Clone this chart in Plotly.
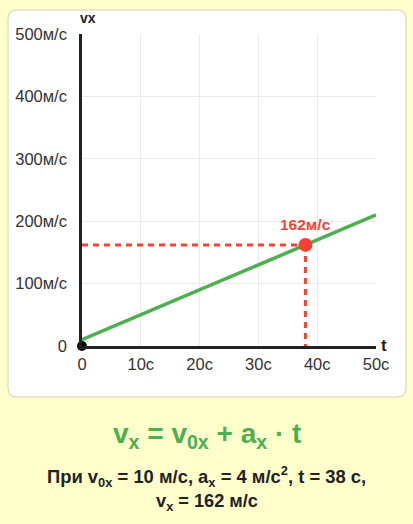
import plotly.graph_objects as go

# Data
t_line = [0, 50]
v_line = [10, 210]
t_point = 38
v_point = 162
x_ticks = [0, 10, 20, 30, 40, 50]
x_tick_labels = ["0", "10с", "20с", "30с", "40с", "50с"]
y_ticks = [0, 100, 200, 300, 400, 500]
y_tick_labels = ["0", "100м/с", "200м/с", "300м/с", "400м/с", "500м/с"]

W, H = 413, 524
BG = "#FFFFCC"
GREEN = "#4CAF50"
RED = "#F44336"

fig = go.Figure()

fig.add_trace(go.Scatter(x=[0, t_point], y=[v_point, v_point], mode="lines",
                         line=dict(color=RED, width=3, dash="6px,5px"), hoverinfo="skip"))
fig.add_trace(go.Scatter(x=[t_point, t_point], y=[v_point, 0], mode="lines",
                         line=dict(color=RED, width=3, dash="6px,5px"), hoverinfo="skip"))
fig.add_trace(go.Scatter(x=t_line, y=v_line, mode="lines",
                         line=dict(color=GREEN, width=3.5), hoverinfo="skip"))
fig.add_trace(go.Scatter(x=[t_point], y=[v_point], mode="markers",
                         marker=dict(color=RED, size=14), hoverinfo="skip"))
fig.add_trace(go.Scatter(x=[0], y=[0], mode="markers",
                         marker=dict(color="black", size=10), hoverinfo="skip",
                         cliponaxis=False))

def px_x(p):
    return p / W

def px_y(p):
    return 1 - p / H

x0, x1, y0, y1, r = 8, 406, 10, 397, 9
path = (f"M {px_x(x0+r)},{px_y(y0)} L {px_x(x1-r)},{px_y(y0)} "
        f"Q {px_x(x1)},{px_y(y0)} {px_x(x1)},{px_y(y0+r)} "
        f"L {px_x(x1)},{px_y(y1-r)} Q {px_x(x1)},{px_y(y1)} {px_x(x1-r)},{px_y(y1)} "
        f"L {px_x(x0+r)},{px_y(y1)} Q {px_x(x0)},{px_y(y1)} {px_x(x0)},{px_y(y1-r)} "
        f"L {px_x(x0)},{px_y(y0+r)} Q {px_x(x0)},{px_y(y0)} {px_x(x0+r)},{px_y(y0)} Z")
fig.add_shape(type="path", path=path, xref="paper", yref="paper",
              fillcolor="white", line=dict(color="#CFCFB8", width=1), layer="below")

font_family = "Liberation Sans, Arial, sans-serif"

fig.update_layout(
    width=W, height=H, autosize=False,
    margin=dict(l=0, r=0, t=0, b=0, pad=0),
    paper_bgcolor=BG, plot_bgcolor="rgba(0,0,0,0)",
    showlegend=False,
    font=dict(family=font_family, color="#333", size=16.5),
    xaxis=dict(domain=[82 / W, 376 / W], range=[0, 50], tickvals=x_ticks,
               ticktext=x_tick_labels, showgrid=True, gridcolor="#EBEBEB", gridwidth=1,
               showline=True, linecolor="#222", linewidth=2.5, zeroline=False,
               ticks="", ticklabelstandoff=1, fixedrange=True, automargin=False),
    yaxis=dict(domain=[px_y(346), px_y(34)], range=[0, 500], tickvals=y_ticks,
               ticktext=y_tick_labels, showgrid=True, gridcolor="#EBEBEB", gridwidth=1,
               showline=True, linecolor="#222", linewidth=2.5, zeroline=False,
               ticks="", ticklabelstandoff=9, fixedrange=True, automargin=False),
)

annotations = [
    dict(x=t_point, y=v_point, xref="x", yref="y", text=f"<b>{v_point}м/с</b>",
         showarrow=False, yshift=20, font=dict(color=RED, size=15.5)),
    dict(x=0, y=500, xref="x", yref="y", text="<b>vx</b>", showarrow=False,
         xshift=6, yshift=16, font=dict(color="#222", size=14)),
    dict(x=50, y=0, xref="x", yref="y", text="<b>t</b>", showarrow=False,
         xshift=8, yshift=1, font=dict(color="#222", size=17)),
    dict(x=0.5, y=px_y(435), xref="paper", yref="paper", yanchor="middle",
         text="<b>v<sub>x</sub> = v<sub>0x</sub> + a<sub>x</sub> · t</b>",
         showarrow=False, font=dict(color=GREEN, size=28)),
    dict(x=0.5, y=px_y(476), xref="paper", yref="paper", yanchor="middle",
         text="<b>При v<sub>0x</sub> = 10 м/с, a<sub>x</sub> = 4 м/с<sup>2</sup>, t = 38 с,</b>",
         showarrow=False, font=dict(color="#222", size=18.4)),
    dict(x=0.5, y=px_y(502), xref="paper", yref="paper", yanchor="middle",
         text="<b>v<sub>x</sub> = 162 м/с</b>",
         showarrow=False, font=dict(color="#222", size=18.2)),
]
fig.update_layout(annotations=annotations)

post = (
    "var de=document.documentElement,b=document.body;"
    "de.style.margin='0';de.style.padding='0';b.style.margin='0';b.style.padding='0';"
    "de.style.background='" + BG + "';b.style.background='" + BG + "';"
    "de.style.overflow='hidden';b.style.overflow='hidden';"
)
fig.write_html("out.html", config={"displayModeBar": False, "responsive": False},
               post_script=post)
